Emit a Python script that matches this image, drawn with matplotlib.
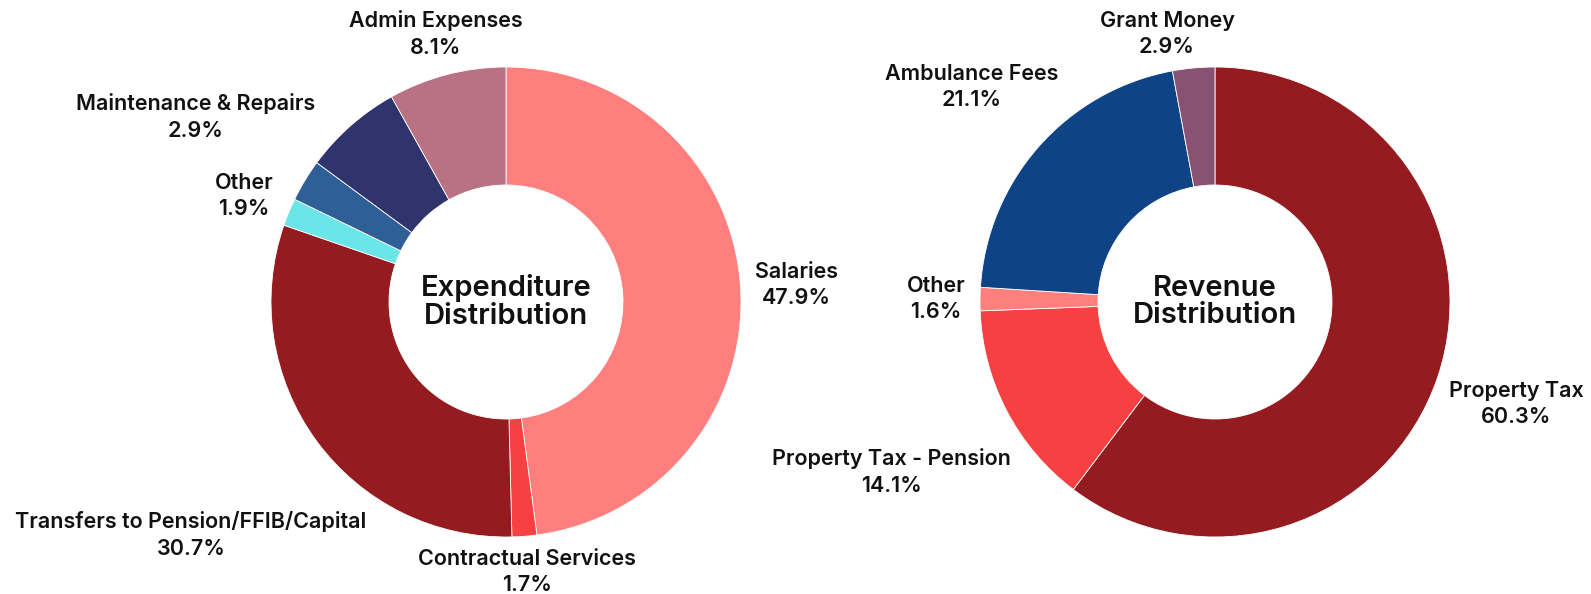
import matplotlib.pyplot as plt
from matplotlib import font_manager

# Expenditure (clockwise from 12 o'clock)
exp_labels = ['Salaries', 'Contractual Services', 'Transfers to Pension/FFIB/Capital',
              'Other', 'Maintenance & Repairs', '', 'Admin Expenses']
exp_values = [47.9, 1.7, 30.7, 1.9, 2.9, 6.8, 8.1]
exp_colors = ['#FF7F7E', '#F64041', '#941B1F', '#6BE5E8', '#2E5F96', '#30346C', '#B97284']

# Revenue (clockwise from 12 o'clock)
rev_labels = ['Property Tax', 'Property Tax - Pension', 'Other', 'Ambulance Fees', 'Grant Money']
rev_values = [60.3, 14.1, 1.6, 21.1, 2.9]
rev_colors = ['#941B1F', '#F64041', '#FF7F7E', '#0E4386', '#8A5272']

# label anchor points in pixels (x, y from top), one per slice
exp_label_pos = [(796, 285), (527, 572), (191, 535), (244, 196), (196, 117), None, (436, 34)]
rev_label_pos = [(1516, 404), (891, 472), (936, 299), (972, 87), (1167, 34)]

W, H = 1591, 594
R, HOLE = 235, 117

fam = 'DejaVu Sans'
for f in ['Inter', 'Open Sans', 'Lato']:
    try:
        font_manager.findfont(f, fallback_to_default=False)
        fam = f
        break
    except Exception:
        pass

fig = plt.figure(figsize=(W / 100, H / 100), dpi=100)
ax = fig.add_axes([0, 0, 1, 1])


def donut(center, values, colors, labels, positions, title):
    cx, cy = center
    ax.pie(values, colors=colors, startangle=90, counterclock=False,
           radius=R, center=(cx, H - cy),
           wedgeprops=dict(width=R - HOLE, edgecolor='white', linewidth=0.6))
    for name, v, pos in zip(labels, values, positions):
        if not name or pos is None:
            continue
        ax.text(pos[0], H - pos[1], f'{name}\n{v:.1f}%', ha='center', va='center',
                multialignment='center', fontsize=15.5, fontweight='semibold',
                family=fam, color='#111111', linespacing=1.42)
    ax.text(cx, H - cy, title, ha='center', va='center', multialignment='center',
            fontsize=21, fontweight='semibold', family=fam, color='#111111',
            linespacing=1.02)


donut((506, 302), exp_values, exp_colors, exp_labels, exp_label_pos, 'Expenditure\nDistribution')
donut((1215, 302), rev_values, rev_colors, rev_labels, rev_label_pos, 'Revenue\nDistribution')

ax.set_xlim(0, W)
ax.set_ylim(0, H)
ax.set_aspect('equal')
ax.axis('off')

fig.savefig('out.png', dpi=100, facecolor='white')
